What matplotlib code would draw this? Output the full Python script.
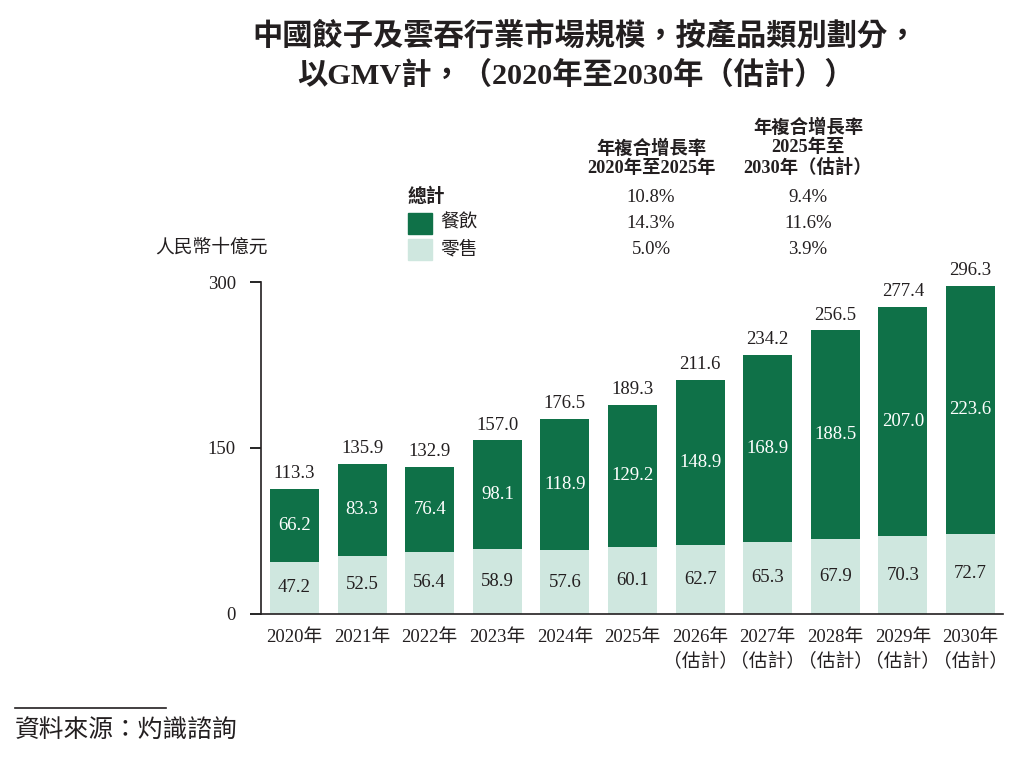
import matplotlib.pyplot as plt

plt.rcParams['font.family'] = ['Liberation Serif', 'Noto Sans CJK TC', 'DejaVu Sans']

# data
years = ["2020年", "2021年", "2022年", "2023年", "2024年", "2025年",
         "2026年\n（估計）", "2027年\n（估計）", "2028年\n（估計）",
         "2029年\n（估計）", "2030年\n（估計）"]
retail = [47.2, 52.5, 56.4, 58.9, 57.6, 60.1, 62.7, 65.3, 67.9, 70.3, 72.7]
catering = [66.2, 83.3, 76.4, 98.1, 118.9, 129.2, 148.9, 168.9, 188.5, 207.0, 223.6]
totals = [113.3, 135.9, 132.9, 157.0, 176.5, 189.3, 211.6, 234.2, 256.5, 277.4, 296.3]

cagr_rows = ["總計", "餐飲", "零售"]
cagr_2020_2025 = ["10.8%", "14.3%", "5.0%"]
cagr_2025_2030 = ["9.4%", "11.6%", "3.9%"]

dark = "#0F7148"
light = "#CFE7DF"
txt = "#231F20"

fig = plt.figure(figsize=(10.16, 7.61), dpi=100)
ax = fig.add_axes([261 / 1016, 1 - 614 / 761, (1003 - 261) / 1016, (614 - 282) / 761])

x = list(range(len(years)))
ax.bar(x, retail, width=0.725, color=light)
ax.bar(x, catering, width=0.725, bottom=retail, color=dark)

for i in x:
    ax.text(i, retail[i] / 2, f"{retail[i]:.1f}", ha="center", va="center",
            fontsize=13.5, color=txt)
    ax.text(i, retail[i] + catering[i] / 2, f"{catering[i]:.1f}", ha="center",
            va="center", fontsize=13.5, color="white")
    ax.text(i, totals[i] + 6, f"{totals[i]:.1f}", ha="center", va="bottom",
            fontsize=13.5, color=txt)

ax.set_xlim(-0.496, 10.48)
ax.set_ylim(0, 300)
ax.set_yticks([0, 150, 300])
ax.set_xticks(x)
ax.set_xticklabels(years, fontsize=13.5, color=txt, linespacing=1.45, va="top")
ax.tick_params(axis="x", length=0, pad=11)
ax.tick_params(axis="y", length=8, width=1.2, pad=10, labelsize=13.5, labelcolor=txt)
for s in ["top", "right"]:
    ax.spines[s].set_visible(False)
for s in ["left", "bottom"]:
    ax.spines[s].set_linewidth(1.2)
    ax.spines[s].set_color(txt)

# unit label
fig.text(155 / 1016, 1 - 248 / 761, "人民幣十億元", fontsize=13.5, color=txt,
         va="center", ha="left")

# title
fig.text(585 / 1016, 1 - 36 / 761, "中國餃子及雲吞行業市場規模，按產品類別劃分，",
         fontsize=21.8, fontweight="bold", ha="center", va="center", color=txt)
fig.text(576 / 1016, 1 - 75 / 761, "以GMV計，（2020年至2030年（估計））",
         fontsize=21.8, fontweight="bold", ha="center", va="center", color=txt)

# CAGR table
c1 = 651 / 1016
c2 = 808 / 1016
fig.text(c1, 1 - 158 / 761, "年複合增長率\n2020年至2025年", fontsize=13.2,
         fontweight="bold", ha="center", va="center", linespacing=1.15, color=txt)
fig.text(c2, 1 - 148 / 761, "年複合增長率\n2025年至\n2030年（估計）", fontsize=13.2,
         fontweight="bold", ha="center", va="center", linespacing=1.15, color=txt)

row_y = [197, 223, 250]
for k, name in enumerate(cagr_rows):
    yy = 1 - row_y[k] / 761
    if k == 0:
        fig.text(408 / 1016, yy, name, fontsize=13.5, fontweight="bold",
                 ha="left", va="center", color=txt)
    else:
        col = dark if k == 1 else light
        fig.patches.append(plt.Rectangle((408 / 1016, yy - 10.5 / 761), 24 / 1016, 21 / 761,
                                         transform=fig.transFigure, color=col))
        fig.text(440 / 1016, yy, name, fontsize=13.5, ha="left", va="center", color=txt)
    fig.text(c1, yy, cagr_2020_2025[k], fontsize=13.5, ha="center", va="center", color=txt)
    fig.text(c2, yy, cagr_2025_2030[k], fontsize=13.5, ha="center", va="center", color=txt)

# source
fig.add_artist(plt.Line2D([15 / 1016, 166 / 1016], [1 - 708 / 761, 1 - 708 / 761],
                          transform=fig.transFigure, color=txt, lw=1.2))
fig.text(15 / 1016, 1 - 730 / 761, "資料來源：灼識諮詢", fontsize=17.8, style="italic",
         ha="left", va="center", color=txt)

fig.savefig("out.png", dpi=100)
